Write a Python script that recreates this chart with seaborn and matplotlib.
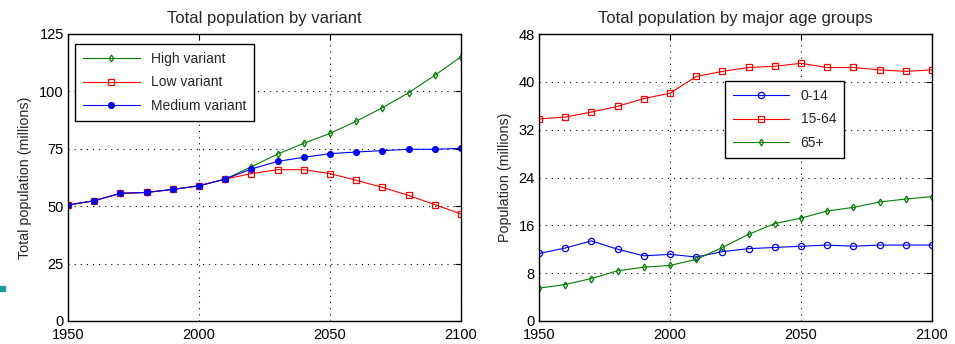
import numpy as np
import pandas as pd
import matplotlib
matplotlib.use("Agg")
import matplotlib.pyplot as plt
import seaborn as sns

years = [1950, 1960, 1970, 1980, 1990, 2000, 2010, 2020, 2030, 2040, 2050, 2060, 2070, 2080, 2090, 2100]

high_variant = [50.5, 52.4, 55.6, 56.0, 57.3, 58.9, 61.8, 67.2, 72.7, 77.4, 81.7, 87.0, 92.9, 99.4, 107.0, 115.1]
low_variant = [50.5, 52.4, 55.6, 56.0, 57.3, 58.9, 61.8, 64.2, 65.9, 65.9, 64.2, 61.3, 58.2, 54.7, 50.7, 46.6]
medium_variant = [50.5, 52.4, 55.6, 56.0, 57.3, 58.9, 61.8, 66.2, 69.5, 71.3, 72.9, 73.6, 74.2, 74.8, 74.8, 75.2]

age_0_14 = [11.3, 12.2, 13.4, 12.0, 10.9, 11.15, 10.7, 11.6, 12.1, 12.3, 12.5, 12.7, 12.5, 12.7, 12.7, 12.7]
age_15_64 = [33.8, 34.1, 34.95, 35.9, 37.2, 38.1, 40.9, 41.75, 42.4, 42.6, 43.1, 42.4, 42.4, 42.0, 41.75, 42.0]
age_65_plus = [5.5, 6.1, 7.1, 8.4, 9.0, 9.3, 10.3, 12.3, 14.5, 16.3, 17.2, 18.4, 19.0, 19.9, 20.4, 20.8]

left_ticks_y = [0, 25, 50, 75, 100, 125]
right_ticks_y = [0, 8, 16, 24, 32, 40, 48]
x_ticks = [1950, 2000, 2050, 2100]

sns.set_style("white")
plt.rcParams['font.family'] = ['Liberation Sans', 'DejaVu Sans']

GREEN = (0, 0.5, 0)
RED = (1, 0, 0)
BLUE = (0, 0, 1)

fig = plt.figure(figsize=(9.55, 3.44), dpi=100)
ax1 = fig.add_axes([68/955, 23/344, 393/955, 287/344])
ax2 = fig.add_axes([539/955, 23/344, 393/955, 287/344])

def draw(ax, y, label, color, marker, ms, filled):
    sns.lineplot(x=years, y=y, ax=ax, color=color, label=label, marker=marker,
                 markersize=ms, linewidth=0.8,
                 markerfacecolor=color if filled else 'none',
                 markeredgecolor=color, markeredgewidth=0.9)

draw(ax1, high_variant, "High variant", GREEN, 'd', 3.5, False)
draw(ax1, low_variant, "Low variant", RED, 's', 4.8, False)
draw(ax1, medium_variant, "Medium variant", BLUE, 'o', 4.2, True)

draw(ax2, age_0_14, "0-14", BLUE, 'o', 4.5, False)
draw(ax2, age_15_64, "15-64", RED, 's', 4.8, False)
draw(ax2, age_65_plus, "65+", GREEN, 'd', 3.5, False)

for ax, yt, ylab, title in [(ax1, left_ticks_y, "Total population (millions)", "Total population by variant"),
                            (ax2, right_ticks_y, "Population (millions)", "Total population by major age groups")]:
    ax.set_xlim(1950, 2100)
    ax.set_ylim(yt[0], yt[-1])
    ax.set_xticks(x_ticks)
    ax.set_yticks(yt)
    ax.grid(True, color='black', linestyle=(0, (1, 4.5)), linewidth=0.8)
    ax.tick_params(direction='in', length=4, width=0.8, top=True, right=True,
                   labelsize=10.5, colors='black')
    ax.tick_params(axis='x', pad=5)
    ax.tick_params(axis='y', pad=3)
    for s in ax.spines.values():
        s.set_color('black')
        s.set_linewidth(1.0)
    ax.set_ylabel(ylab, fontsize=10.3, labelpad=5)
    ax.set_xlabel("")
    ax.set_title(title, fontsize=12, pad=8)

leg_kw = dict(loc='upper left', fontsize=10, frameon=True, fancybox=False,
              edgecolor='black', framealpha=1, handlelength=4.1, borderpad=0.55,
              labelspacing=0.7, borderaxespad=0)
leg1 = ax1.legend(bbox_to_anchor=(0.018, 0.965), **leg_kw)
leg1.get_frame().set_linewidth(1.0)
leg2 = ax2.legend(bbox_to_anchor=(0.473, 0.836), **leg_kw)
leg2.get_frame().set_linewidth(1.0)

fig.patches.append(matplotlib.patches.Rectangle((0, 1 - 291/344), 5/955, 5/344,
                   transform=fig.transFigure, color='#1a9c9c', figure=fig))

fig.savefig("out.png", dpi=100)
